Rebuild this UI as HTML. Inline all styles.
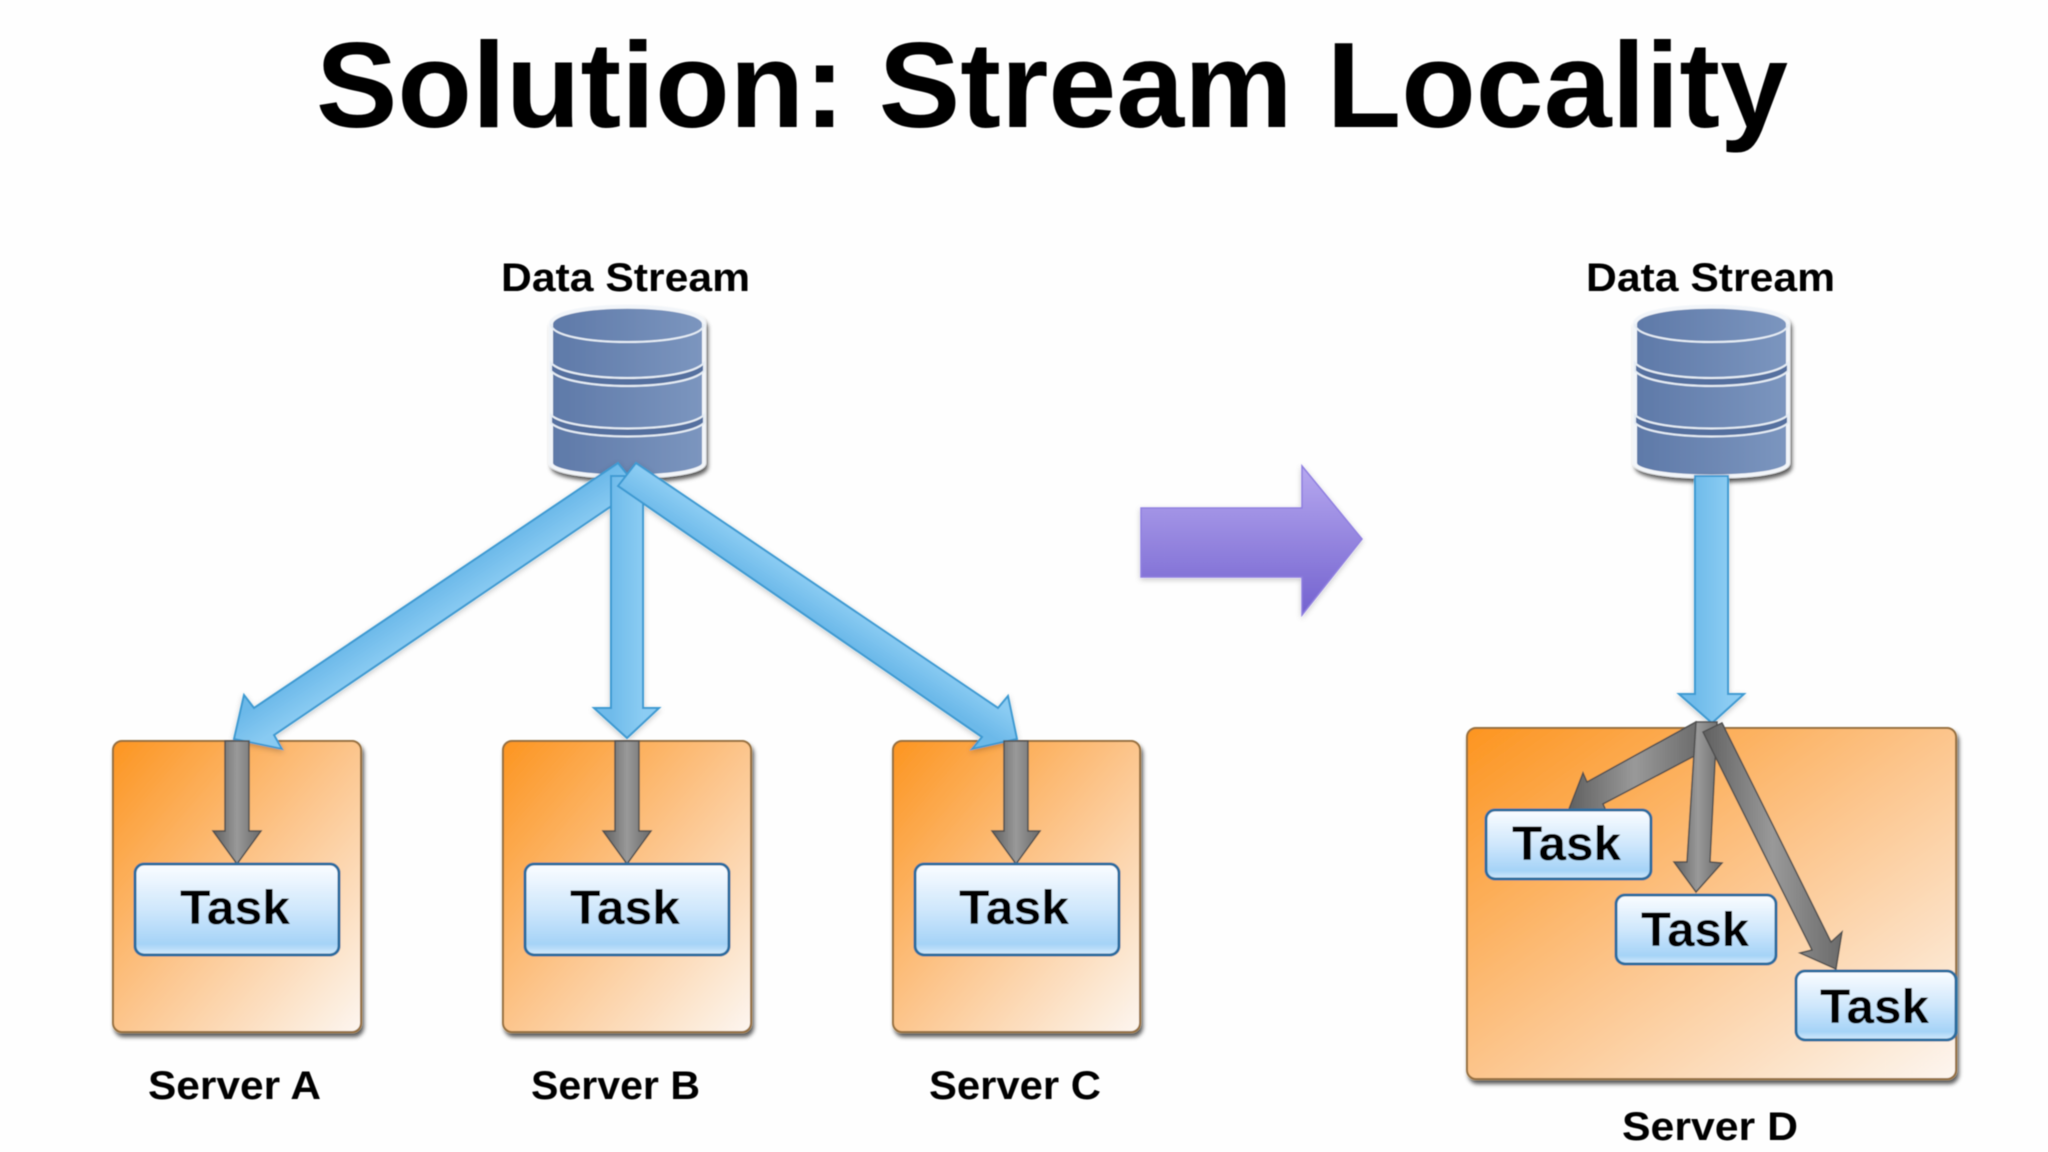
<!DOCTYPE html>
<html><head><meta charset="utf-8"><title>Solution: Stream Locality</title>
<style>html,body{margin:0;padding:0;background:#fefefe}svg{display:block}text{font-family:"Liberation Sans",sans-serif;font-weight:700;fill:#000}</style></head>
<body>
<svg width="2048" height="1152" viewBox="0 0 2048 1152" xmlns="http://www.w3.org/2000/svg">
<defs>
<linearGradient id="or" x1="0" y1="0" x2="1" y2="1"><stop offset="0" stop-color="#fd9520"/><stop offset=".5" stop-color="#fcc58c"/><stop offset="1" stop-color="#fdf6f0"/></linearGradient>
<linearGradient id="tk" x1="0" y1="0" x2="0" y2="1"><stop offset="0" stop-color="#fbfdff"/><stop offset=".5" stop-color="#cfe7fc"/><stop offset=".88" stop-color="#a5d3f7"/><stop offset="1" stop-color="#d6ecfc"/></linearGradient>
<linearGradient id="cy" x1="0" y1="0" x2="1" y2="0"><stop offset="0" stop-color="#5e79a8"/><stop offset="1" stop-color="#7c96bf"/></linearGradient>
<linearGradient id="blA" gradientUnits="userSpaceOnUse" x1="436" y1="585" x2="454" y2="612"><stop offset="0" stop-color="#6cb9e9"/><stop offset="1" stop-color="#88caf2"/></linearGradient>
<linearGradient id="blC" gradientUnits="userSpaceOnUse" x1="800" y1="611" x2="817" y2="585"><stop offset="0" stop-color="#6cb9e9"/><stop offset="1" stop-color="#8bccf3"/></linearGradient>
<linearGradient id="bl2" gradientUnits="userSpaceOnUse" x1="611" y1="0" x2="643" y2="0"><stop offset="0" stop-color="#6fbbea"/><stop offset="1" stop-color="#8bccf3"/></linearGradient>
<linearGradient id="bl3" gradientUnits="userSpaceOnUse" x1="1695" y1="0" x2="1728" y2="0"><stop offset="0" stop-color="#6fbbea"/><stop offset="1" stop-color="#8bccf3"/></linearGradient>
<linearGradient id="gr" x1="0" y1="0" x2="1" y2="0"><stop offset="0" stop-color="#606060"/><stop offset=".5" stop-color="#999"/><stop offset="1" stop-color="#6a6a6a"/></linearGradient>
<linearGradient id="pu" x1="0" y1="0" x2="0" y2="1"><stop offset="0" stop-color="#b6a8ef"/><stop offset="1" stop-color="#7362cf"/></linearGradient>
<filter id="sh" x="-10%" y="-10%" width="120%" height="120%"><feDropShadow dx="2" dy="4" stdDeviation="2.2" flood-color="#000" flood-opacity=".65"/></filter>
<filter id="sa" x="-10%" y="-10%" width="120%" height="120%"><feDropShadow dx="0" dy="2" stdDeviation="3" flood-color="#000" flood-opacity=".22"/></filter>
<filter id="soft" filterUnits="userSpaceOnUse" x="0" y="0" width="2048" height="1152"><feGaussianBlur stdDeviation=".6"/></filter>
</defs>
<rect width="2048" height="1152" fill="#fefefe"/>
<g filter="url(#soft)">
<text x="316" y="127" font-size="122" textLength="1472" lengthAdjust="spacingAndGlyphs">Solution: Stream Locality</text>

<!-- server boxes -->
<g fill="url(#or)" stroke="#96703f" stroke-width="2" filter="url(#sh)">
<rect x="113" y="741" width="248" height="291" rx="9"/>
<rect x="503" y="741" width="248" height="291" rx="9"/>
<rect x="893" y="741" width="247" height="291" rx="9"/>
<rect x="1467" y="728" width="489" height="351" rx="9"/>
</g>

<!-- cylinders -->
<g filter="url(#sh)">
<path d="M551,324 C551,301 704,301 704,324 V463 C704,481 551,481 551,463 Z" fill="url(#cy)" stroke="#f2f5f9" stroke-width="4"/>
<path d="M551,324 C551,348 704,348 704,324" fill="none" stroke="#e6edf5" stroke-width="2"/>
<path d="M551,363 C570,383 685,383 704,363 V371 C685,391 570,391 551,371 Z" fill="#55709f" stroke="#e6edf5" stroke-width="2"/>
<path d="M551,415 C570,433 685,433 704,415 V423 C685,441 570,441 551,423 Z" fill="#55709f" stroke="#e6edf5" stroke-width="2"/>
</g>
<g filter="url(#sh)" transform="translate(1084,0)">
<path d="M551,324 C551,301 704,301 704,324 V463 C704,481 551,481 551,463 Z" fill="url(#cy)" stroke="#f2f5f9" stroke-width="4"/>
<path d="M551,324 C551,348 704,348 704,324" fill="none" stroke="#e6edf5" stroke-width="2"/>
<path d="M551,363 C570,383 685,383 704,363 V371 C685,391 570,391 551,371 Z" fill="#55709f" stroke="#e6edf5" stroke-width="2"/>
<path d="M551,415 C570,433 685,433 704,415 V423 C685,441 570,441 551,423 Z" fill="#55709f" stroke="#e6edf5" stroke-width="2"/>
</g>

<!-- blue arrows left -->
<g stroke="#3c9ad2" stroke-width="2" filter="url(#sa)">
<polygon fill="url(#blA)" points="618,463 638,488 274,735 282,749 234,739 244,695 254,708"/>
<polygon fill="url(#bl2)" points="611,476 643,476 643,708 659,708 627,738 594,708 611,708"/>
<polygon fill="url(#blC)" points="636,463 998,708 1008,696 1017,739 972,749 982,737 618,486"/>
</g>

<!-- blue arrow right -->
<polygon fill="url(#bl3)" stroke="#3c9ad2" stroke-width="2" filter="url(#sa)" points="1695,476 1728,476 1728,694 1744,694 1712,723 1679,694 1695,694"/>

<!-- grey arrows -->
<g fill="url(#gr)" stroke="#505050" stroke-width="1.5">
<polygon points="225,741 249,741 249,831 261,831 237,864 213,831 225,831"/>
<polygon points="615,741 639,741 639,831 651,831 627,864 603,831 615,831"/>
<polygon points="1004,741 1028,741 1028,831 1040,831 1016,864 992,831 1004,831"/>
<polygon points="1696,722 1700,753 1603,804 1608,815 1569,809 1583,773 1587,782"/>
<polygon points="1696,722 1717,722 1710,862 1722,863 1696,892 1674,862 1687,862"/>
<polygon points="1703,732 1722,723 1831,942 1842,932 1836,969 1800,953 1812,950"/>
</g>

<!-- tasks -->
<g fill="url(#tk)" stroke="#2c6d9f" stroke-width="3">
<rect x="135" y="864" width="204" height="91" rx="9"/>
<rect x="525" y="864" width="204" height="91" rx="9"/>
<rect x="915" y="864" width="204" height="91" rx="9"/>
<rect x="1489" y="810" width="165" height="69" rx="9" transform="translate(-3,0)"/>
<rect x="1619" y="895" width="160" height="69" rx="9" transform="translate(-3,0)"/>
<rect x="1799" y="971" width="160" height="69" rx="9" transform="translate(-3,0)"/>
</g>

<!-- purple arrow -->
<polygon points="1141,508 1302,508 1302,466 1362,539 1302,615 1302,577 1141,577" fill="url(#pu)" stroke="#8f7fe0" stroke-width="1.5" filter="url(#sa)"/>

<!-- labels -->
<g font-size="40">
<text x="501" y="291" textLength="249" lengthAdjust="spacingAndGlyphs">Data Stream</text>
<text x="1586" y="291" textLength="249" lengthAdjust="spacingAndGlyphs">Data Stream</text>
<text x="148" y="1099" textLength="173" lengthAdjust="spacingAndGlyphs">Server A</text>
<text x="531" y="1099" textLength="169" lengthAdjust="spacingAndGlyphs">Server B</text>
<text x="929" y="1099" textLength="172" lengthAdjust="spacingAndGlyphs">Server C</text>
<text x="1622" y="1140" textLength="176" lengthAdjust="spacingAndGlyphs">Server D</text>
</g>
<g font-size="48">
<text x="180" y="924" textLength="110" lengthAdjust="spacingAndGlyphs">Task</text>
<text x="570" y="924" textLength="110" lengthAdjust="spacingAndGlyphs">Task</text>
<text x="959" y="924" textLength="110" lengthAdjust="spacingAndGlyphs">Task</text>
<text x="1512" y="860" textLength="109" lengthAdjust="spacingAndGlyphs">Task</text>
<text x="1641" y="946" textLength="108" lengthAdjust="spacingAndGlyphs">Task</text>
<text x="1820" y="1023" textLength="109" lengthAdjust="spacingAndGlyphs">Task</text>
</g>
</g>
</svg>
</body></html>
